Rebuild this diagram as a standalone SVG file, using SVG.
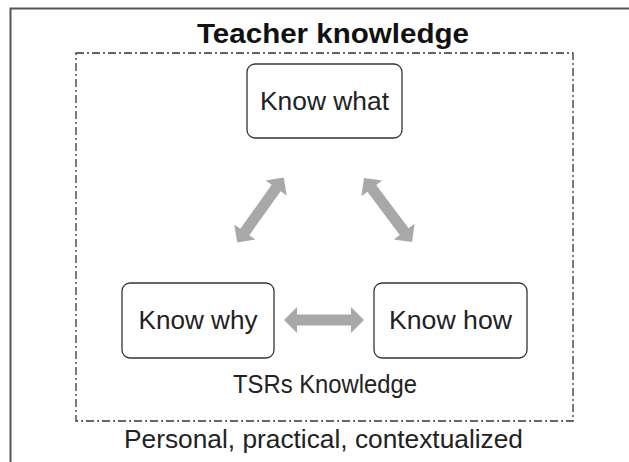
<svg xmlns="http://www.w3.org/2000/svg" width="629" height="462" viewBox="0 0 629 462">
<style>
.node{fill:#fff;stroke:#333;stroke-width:1.3}
.lbl{font-family:"Liberation Sans",Arial,sans-serif;font-size:25px;fill:#222;text-anchor:middle}
.arr{fill:#a8a8a8}
</style>
<defs>
<polygon id="dbl" points="-40,0 -27,-13 -27,-5.5 27,-5.5 27,-13 40,0 27,13 27,5.5 -27,5.5 -27,13"/>
</defs>
<rect x="0" y="0" width="629" height="462" fill="#fff"/>
<path d="M10.5 462 V8.5 H629" fill="none" stroke="#555" stroke-width="2"/>
<text x="333" y="43" font-family="Liberation Sans,Arial,sans-serif" font-size="28" font-weight="bold" text-anchor="middle" fill="#111" textLength="272" lengthAdjust="spacingAndGlyphs">Teacher knowledge</text>
<rect x="76" y="53" width="497" height="368" fill="none" stroke="#333" stroke-width="1.3" stroke-dasharray="8,3,2,3"/>
<g id="know-what"><rect class="node" x="247" y="64" width="155" height="74" rx="8"/><text class="lbl" x="324.5" y="110" textLength="129" lengthAdjust="spacingAndGlyphs">Know what</text></g>
<g id="know-why"><rect class="node" x="122" y="283" width="152" height="75" rx="8"/><text class="lbl" x="198" y="329" textLength="119" lengthAdjust="spacingAndGlyphs">Know why</text></g>
<g id="know-how"><rect class="node" x="374" y="283" width="153" height="75" rx="8"/><text class="lbl" x="450.5" y="329" textLength="123" lengthAdjust="spacingAndGlyphs">Know how</text></g>
<g id="connectors">
<use href="#dbl" class="arr" transform="translate(324,320)"/>
<use href="#dbl" class="arr" transform="translate(260.5,210) rotate(-54.5)"/>
<use href="#dbl" class="arr" transform="translate(388,210) rotate(53.1)"/>
</g>
<text class="lbl" x="325" y="393" textLength="184" lengthAdjust="spacingAndGlyphs">TSRs Knowledge</text>
<text class="lbl" x="323.5" y="448" textLength="399" lengthAdjust="spacingAndGlyphs">Personal, practical, contextualized</text>
</svg>
